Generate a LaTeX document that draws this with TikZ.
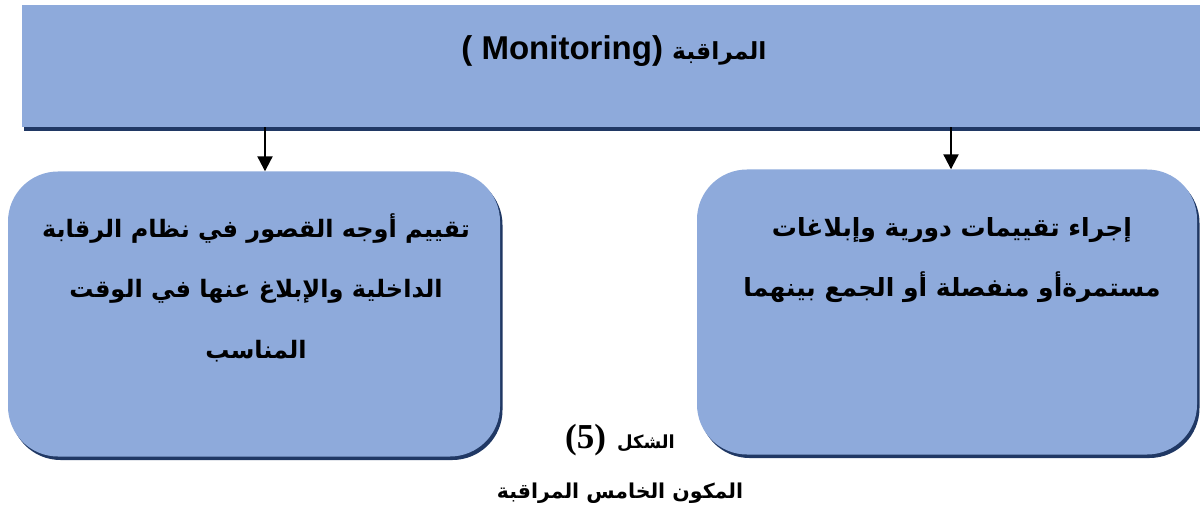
\documentclass[tikz,border=0pt]{standalone}
\usepackage{fontspec}
\setmainfont{Liberation Sans}
\newfontfamily\arabicfont[Script=Arabic]{DejaVu Sans}
\newfontfamily\serifnum{Liberation Serif}
\TeXXeTstate=1
\usetikzlibrary{positioning,shadows,arrows.meta}

\begin{document}
\begin{tikzpicture}[x=1pt, y=-1pt, line join=round, >={Triangle[width=15pt,length=15pt]}]
	\definecolor{boxblue}{HTML}{8EAADB}
	\definecolor{edgeblue}{HTML}{203864}
	\tikzset{
		boxshadow/.style={drop shadow={shadow xshift=2.5pt, shadow yshift=-3.5pt, fill=edgeblue, opacity=1}},
		bigbox/.style={fill=boxblue, rounded corners=50pt, minimum height=285pt, inner sep=0pt, boxshadow},
		artext/.style={font=\arabicfont\bfseries\fontsize{24}{60.5}\selectfont, align=center, inner sep=0pt, anchor=base},
		arrowline/.style={->, line width=2.2pt}
	}
	\useasboundingbox (0,0) rectangle (1200,513);
	% top bar
	\node[fill=boxblue, minimum width=1178pt, minimum height=122pt, inner sep=0pt,
		drop shadow={shadow xshift=2pt, shadow yshift=-4pt, fill=edgeblue, opacity=1}] (topbar) at (611,66) {};
	\node[inner sep=0pt, anchor=base] (title) at (614,60) {{\bfseries\fontsize{33}{36}\selectfont ( Monitoring)}\hspace{9pt}{\arabicfont\bfseries\fontsize{23.5}{26}\selectfont\beginR المراقبة\endR}};
	% the two boxes
	\node[bigbox, minimum width=492pt] (leftbox) at (254,314) {};
	\node[bigbox, minimum width=500pt] (rightbox) at (947,312) {};
	% base of a multi-line node sits on its last line
	\node[artext] (lefttext) at (256,358) {%
		\beginR تقييم أوجه القصور في نظام الرقابة\endR\\
		\beginR الداخلية والإبلاغ عنها في الوقت\endR\\
		\beginR المناسب\endR};
	\node[artext, font=\arabicfont\bfseries\fontsize{25}{60.5}\selectfont] (righttext) at (952,297) {%
		\beginR إجراء تقييمات دورية وإبلاغات\endR\\
		\beginR مستمرةأو منفصلة أو الجمع بينهما\endR};
	% arrows
	\coordinate (leftdrop) at (265,0);
	\coordinate (rightdrop) at (951,0);
	\draw[arrowline] (leftdrop |- topbar.south) -- (leftdrop |- leftbox.north);
	\draw[arrowline] (rightdrop |- topbar.south) -- (rightdrop |- rightbox.north);
	% caption
	\node[inner sep=0pt, anchor=base] (figno) at (620,448) {{\serifnum\bfseries\fontsize{35}{38}\selectfont (5)}\hspace{11pt}{\arabicfont\bfseries\fontsize{18}{20}\selectfont\beginR الشكل\endR}};
	\node[inner sep=0pt, anchor=base, font=\arabicfont\bfseries\fontsize{20.5}{24}\selectfont] (figname) at (620,498) {\beginR المكون الخامس المراقبة\endR};
\end{tikzpicture}
\end{document}
